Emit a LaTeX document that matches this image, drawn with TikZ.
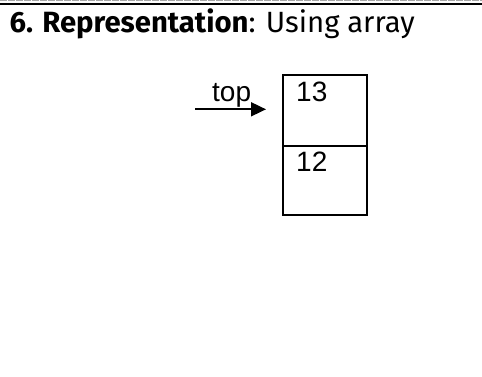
\documentclass[tikz,border=0pt]{standalone}
\usepackage{fontspec}
\setmainfont{Liberation Sans}
\newfontfamily\titlefont{Fira Sans}
\usetikzlibrary{arrows.meta}
\tikzset{
  cell/.style={draw=black, line width=1.8pt},
  val/.style={font=\fontsize{28}{30}\selectfont, inner sep=0pt, anchor=base west},
  ptr/.style={line width=1.8pt, -{Triangle[length=15pt,width=14pt]}}
}
\begin{document}
\begin{tikzpicture}[x=1pt,y=-1pt]
\useasboundingbox (0,0) rectangle (482,376);
\fill[white] (0,0) rectangle (482,376);
% top rules
\draw[gray!70, line width=1.2pt, dash pattern=on 7pt off 1pt] (0,0.6) -- (482,0.6);
\draw[black, line width=2pt] (0,4) -- (482,4);
% title
\node[inner sep=0pt, anchor=base west, font=\titlefont\fontsize{29.3}{32}\selectfont] (title) at (9.5,32) {\textbf{6. Representation}: Using array};
% stack cells
\node[cell, minimum width=84pt, minimum height=71pt, inner sep=0pt, anchor=north west] (c13) at (282,74) {};
\node[cell, minimum width=84pt, minimum height=69pt, inner sep=0pt, anchor=north west] (c12) at (282,145) {};
\node[val] (t13) at (296,101.7) {13};
\node[val] (t12) at (296,171.7) {12};
% top pointer
\coordinate (ps) at (195,109.3);
\coordinate (pe) at (266,109.3);
\draw[ptr] (ps) -- (pe);
\node[val] (toplbl) at (212,101.7) {top};
\end{tikzpicture}
\end{document}
